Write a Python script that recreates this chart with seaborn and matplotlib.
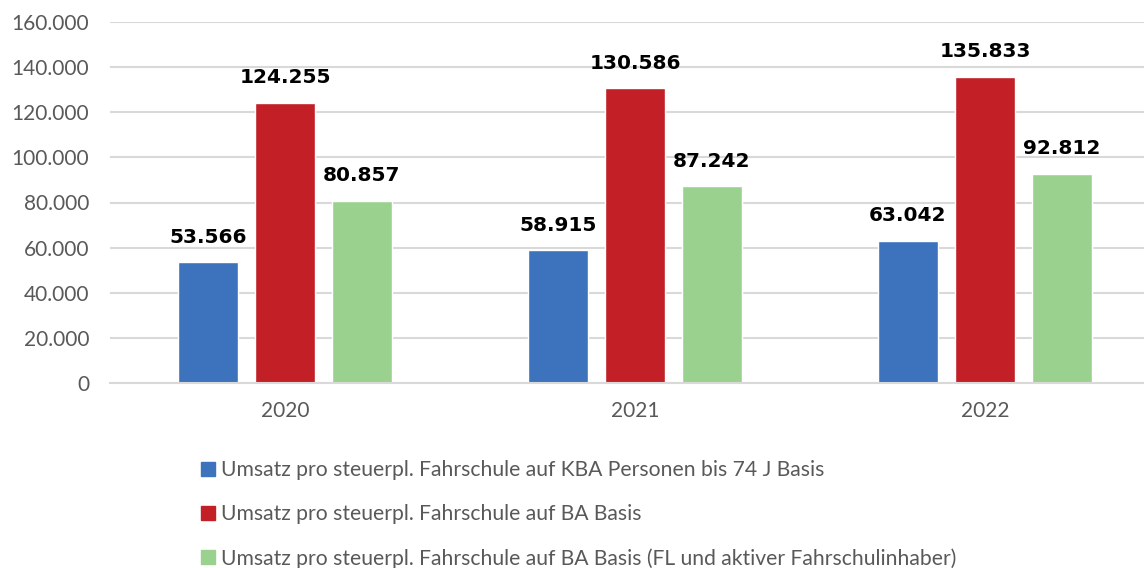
import pandas as pd
import matplotlib.pyplot as plt
import seaborn as sns

jahre = ['2020', '2021', '2022']
serien = [
    'Umsatz pro steuerpl. Fahrschule auf KBA Personen bis 74 J Basis',
    'Umsatz pro steuerpl. Fahrschule auf BA Basis',
    'Umsatz pro steuerpl. Fahrschule auf BA Basis (FL und aktiver Fahrschulinhaber)',
]
kba_basis = [53566, 58915, 63042]
ba_basis = [124255, 130586, 135833]
ba_fl_basis = [80857, 87242, 92812]
farben = ['#3C73BC', '#C21F26', '#9BD18F']

df = pd.DataFrame({
    'Jahr': jahre * 3,
    'Serie': [serien[0]] * 3 + [serien[1]] * 3 + [serien[2]] * 3,
    'Umsatz': kba_basis + ba_basis + ba_fl_basis,
})

sns.set_style('white')
plt.rcParams['font.family'] = ['Lato', 'DejaVu Sans']

fig = plt.figure(figsize=(11.44, 5.68), dpi=100)
ax = fig.add_axes([110 / 1144, 1 - 383 / 568, 1 - 110 / 1144, (383 - 22) / 568])

sns.barplot(data=df, x='Jahr', y='Umsatz', hue='Serie', palette=farben, saturation=1,
            width=0.66, gap=0.21, ax=ax, legend=False)

ax.set_ylim(0, 160000)
ax.set_xlim(-0.5, (1144 - 285) / 350)
ax.set_yticks(range(0, 160001, 20000))
ax.set_yticklabels([f'{v:,.0f}'.replace(',', '.') for v in range(0, 160001, 20000)])
ax.yaxis.grid(True, color='#D9D9D9', linewidth=1.5)
ax.set_axisbelow(True)
for s in ['top', 'right', 'left']:
    ax.spines[s].set_visible(False)
ax.spines['bottom'].set_color('#D9D9D9')
ax.spines['bottom'].set_linewidth(1.5)
ax.tick_params(axis='both', length=0, labelsize=15, labelcolor='#595959')
ax.tick_params(axis='x', pad=13)
ax.tick_params(axis='y', pad=15)
ax.set_xlabel('')
ax.set_ylabel('')

for cont in ax.containers:
    ax.bar_label(cont, labels=[f'{v:,.0f}'.replace(',', '.') for v in cont.datavalues],
                 padding=11, fontsize=14.5, fontweight='bold', color='black',
                 family=['DejaVu Sans'])

handles = [plt.Rectangle((0, 0), 1, 1, color=c) for c in farben]
fig.legend(handles, serien, loc='upper left', bbox_to_anchor=(193 / 1144, 1 - 452 / 568),
           frameon=False, fontsize=15.2, labelcolor='#595959', handlelength=0.62,
           handleheight=0.62, handletextpad=0.3, labelspacing=1.13, borderaxespad=0)

fig.savefig('out.png', dpi=100)
